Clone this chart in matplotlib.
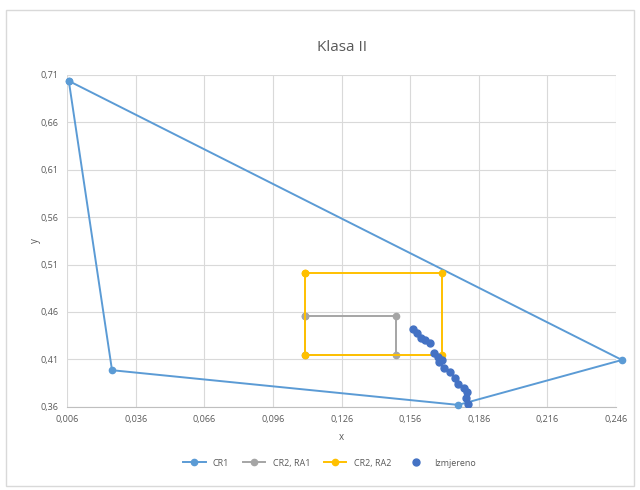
import matplotlib.pyplot as plt
from matplotlib.patches import Rectangle

# CR1 polygon (closed)
cr1_x = [0.0067, 0.0256, 0.1770, 0.2486, 0.0067]
cr1_y = [0.7037, 0.3985, 0.3619, 0.4093, 0.7037]

# CR2, RA1 rectangle
ra1_x = [0.110, 0.150, 0.150, 0.110, 0.110]
ra1_y = [0.456, 0.456, 0.415, 0.415, 0.456]

# CR2, RA2 rectangle
ra2_x = [0.110, 0.170, 0.170, 0.110, 0.110]
ra2_y = [0.501, 0.501, 0.415, 0.415, 0.501]

# measured points
izm_x = [0.1571, 0.1589, 0.1607, 0.1624, 0.1648, 0.1663, 0.1680, 0.1698, 0.1687,
         0.1707, 0.1735, 0.1756, 0.1771, 0.1794, 0.1809, 0.1804, 0.1814]
izm_y = [0.4420, 0.4375, 0.4322, 0.4304, 0.4269, 0.4164, 0.4128, 0.4093, 0.4075,
         0.4012, 0.3970, 0.3900, 0.3840, 0.3801, 0.3753, 0.3695, 0.3626]

x_ticks = [0.006, 0.036, 0.066, 0.096, 0.126, 0.156, 0.186, 0.216, 0.246]
y_ticks = [0.36, 0.41, 0.46, 0.51, 0.56, 0.61, 0.66, 0.71]

plt.rcParams['font.family'] = ['Open Sans', 'DejaVu Sans']
txt = '#595959'

fig = plt.figure(figsize=(6.4, 4.9), dpi=100)
fig.patches.append(Rectangle((6 / 640, 1 - 486 / 490), 628 / 640, 476 / 490,
                             transform=fig.transFigure, fill=False,
                             edgecolor='#D9D9D9', linewidth=1))
ax = fig.add_axes([0.105, 0.17, 0.8575, 0.677])

ax.plot(cr1_x, cr1_y, color='#5B9BD5', lw=1.4, marker='o', ms=4.5, label='CR1', clip_on=False, zorder=3)
ax.plot(ra1_x, ra1_y, color='#A5A5A5', lw=1.4, marker='o', ms=4.5, label='CR2, RA1', zorder=3)
ax.plot(ra2_x, ra2_y, color='#FFC000', lw=1.4, marker='o', ms=4.5, label='CR2, RA2', zorder=4)
ax.plot(izm_x, izm_y, ls='none', color='#4472C4', marker='o', ms=5, label='Izmjereno', zorder=5)

ax.set_xlim(0.006, 0.246)
ax.set_ylim(0.36, 0.71)
ax.set_xticks(x_ticks)
ax.set_yticks(y_ticks)
ax.set_xticklabels([('%.3f' % v).replace('.', ',') for v in x_ticks])
ax.set_yticklabels([('%.2f' % v).replace('.', ',') for v in y_ticks])
ax.tick_params(length=0, labelsize=6.5, colors=txt, pad=6)
ax.grid(True, color='#D9D9D9', lw=0.8)
ax.set_axisbelow(True)
for s in ['top', 'right', 'left']:
    ax.spines[s].set_visible(False)
ax.spines['bottom'].set_color('#BFBFBF')

ax.set_title('Klasa II', fontsize=11, color=txt, pad=17)
ax.set_xlabel('x', fontsize=7, color=txt, labelpad=6)
ax.set_ylabel('y', fontsize=7, color=txt, labelpad=0)

fig.legend(loc='center', bbox_to_anchor=(0.515, 1 - 463 / 490), ncol=4, frameon=False,
           fontsize=6.5, labelcolor=txt, handlelength=2.5, columnspacing=1.5)

plt.savefig('out.png', dpi=100)
